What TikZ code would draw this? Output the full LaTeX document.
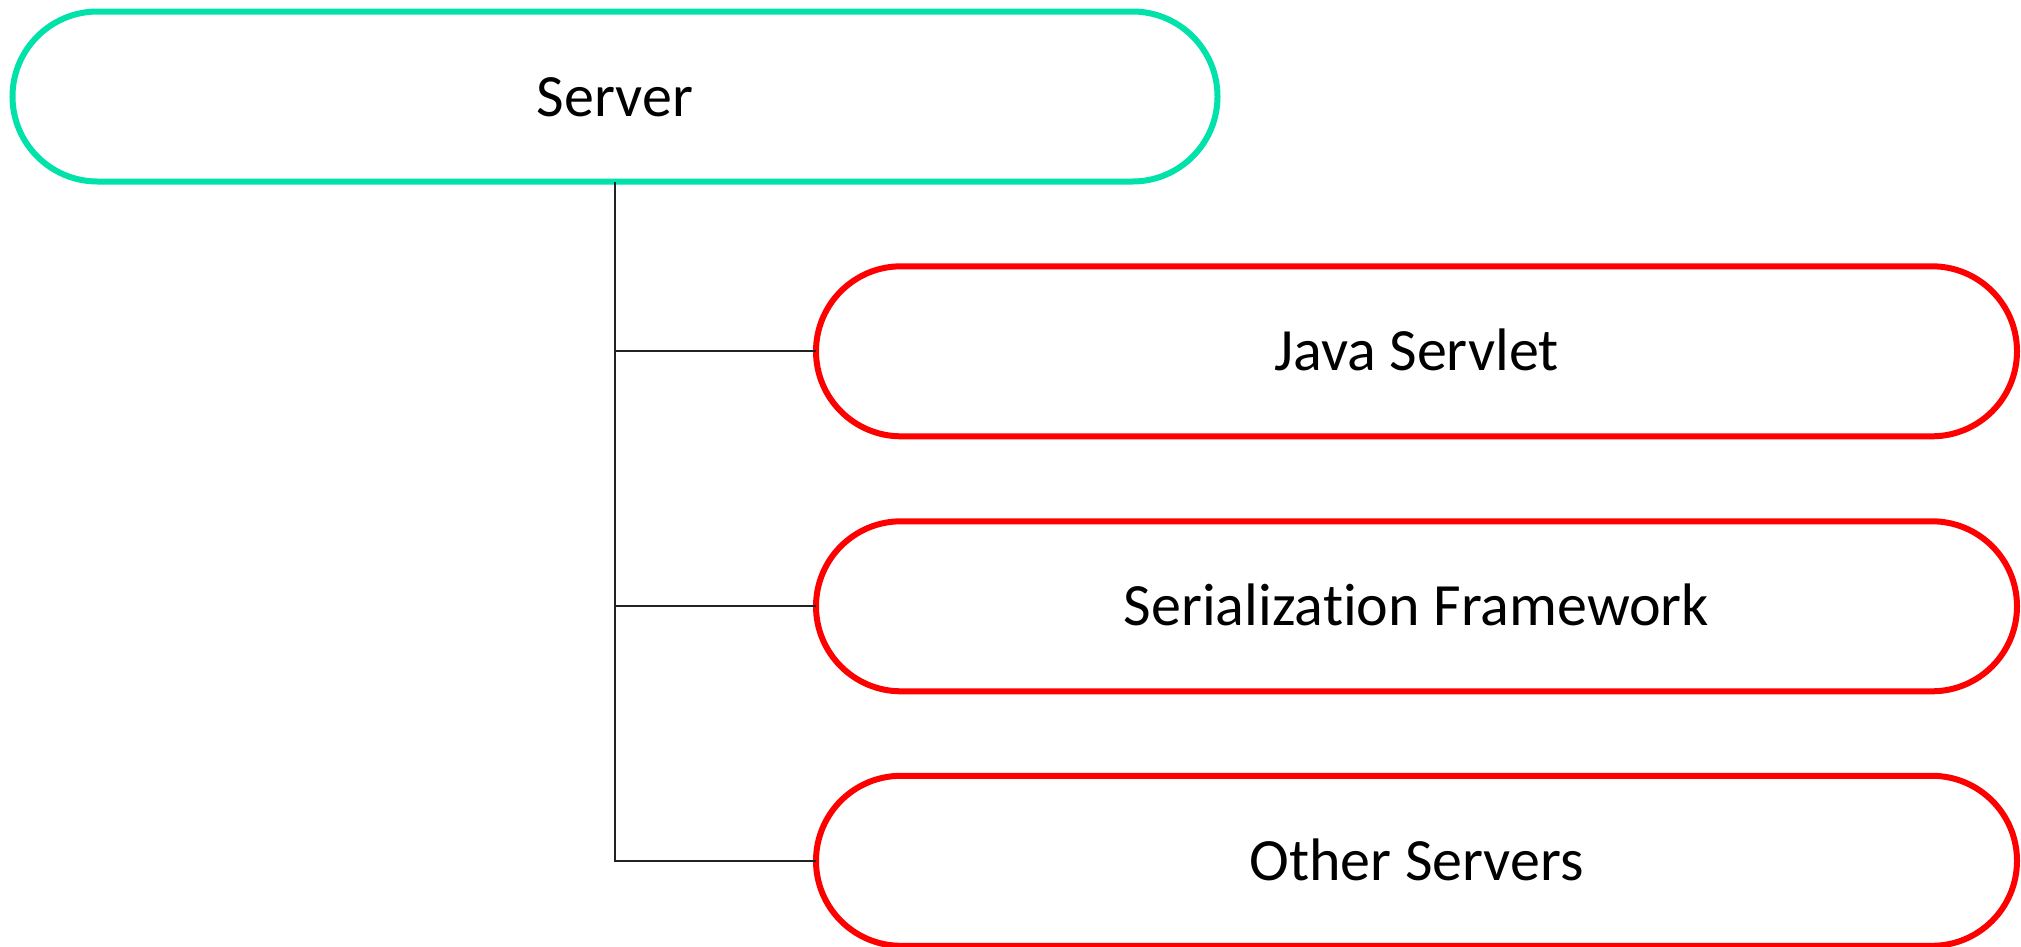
\documentclass[tikz,border=0pt]{standalone}
\usepackage{fontspec}
\setmainfont{Carlito}[Ligatures=NoCommon]
\definecolor{rootgreen}{RGB}{0,226,170}
\definecolor{leafred}{RGB}{255,0,0}
\definecolor{wire}{RGB}{34,34,34}
\begin{document}
\begin{tikzpicture}[x=1pt,y=-1pt,
  pill/.style={draw, line width=6pt, fill=white, rectangle, rounded corners=85pt,
    minimum height=170pt, inner sep=0pt, outer sep=0pt,
    font=\fontsize{60}{72}\selectfont, text height=39pt, text depth=0pt},
  rootpill/.style={pill, draw=rootgreen, minimum width=1205pt},
  leafpill/.style={pill, draw=leafred, minimum width=1201pt},
  link/.style={draw=wire, line width=2pt}]
  \useasboundingbox (0,0) rectangle (2021,946);
  % root and its three children
  \node[rootpill] (server) at (615,96.5) {Server};
  \node[leafpill] (servlet) at (1416.5,351.3) {Java Servlet};
  \node[leafpill] (serial) at (1416.5,606.3) {Serialization Framework};
  \node[leafpill] (other) at (1416.5,860.8) {Other Servers};
  % tree links: one trunk with a branch to each child
  \draw[link] (server.south) |- (other.west);
  \draw[link] (server.south |- servlet.west) -- (servlet.west);
  \draw[link] (server.south |- serial.west) -- (serial.west);
\end{tikzpicture}
\end{document}
